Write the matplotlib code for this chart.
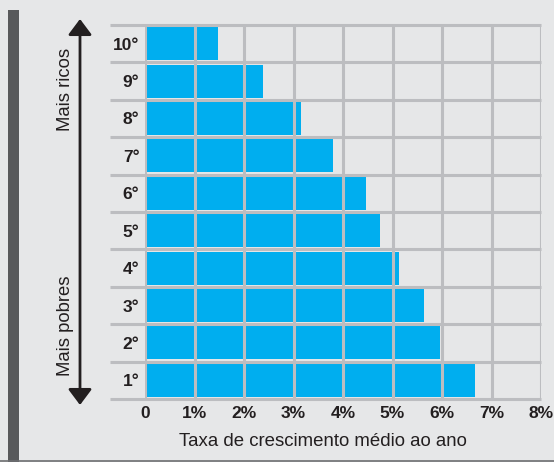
import matplotlib.pyplot as plt
from matplotlib.patches import Rectangle, FancyArrowPatch

plt.rcParams['font.family'] = ['Liberation Sans', 'DejaVu Sans']

deciles = ['1°', '2°', '3°', '4°', '5°', '6°', '7°', '8°', '9°', '10°']
growth = [6.67, 5.95, 5.64, 5.14, 4.74, 4.46, 3.79, 3.15, 2.38, 1.47]
xticks = [0, 1, 2, 3, 4, 5, 6, 7, 8]
xtick_labels = ['0', '1%', '2%', '3%', '4%', '5%', '6%', '7%', '8%']

bg = '#e6e7e8'
grid_c = '#bcbdc0'
bar_c = '#00aeef'
txt_c = '#231f20'

fig = plt.figure(figsize=(5.54, 4.62), dpi=100, facecolor=bg)
W, H = 554, 462
ax = fig.add_axes([145 / W, (H - 399) / H, (541 - 145) / W, (399 - 25) / H])
ax.set_facecolor(bg)

y = list(range(len(deciles)))
ax.barh(y, growth, height=0.88, color=bar_c, zorder=1)

ax.set_xlim(0, 8)
ax.set_ylim(-0.5, len(deciles) - 0.5)

# grid on top of bars
for xv in xticks:
    ax.axvline(xv, color=grid_c, lw=2.2, zorder=3)
for yv in [i - 0.5 for i in range(len(deciles) + 1)]:
    ax.plot([-0.71, 8], [yv, yv], color=grid_c, lw=2.2, zorder=3,
            clip_on=False, solid_capstyle='butt')

for s in ax.spines.values():
    s.set_visible(False)

ax.set_yticks(y)
ax.set_yticklabels(deciles, fontsize=12.5, fontweight='bold', color=txt_c)
ax.set_xticks(xticks)
ax.set_xticklabels(xtick_labels, fontsize=12.5, fontweight='bold', color=txt_c)
ax.tick_params(axis='both', length=0)
ax.tick_params(axis='y', pad=4)
ax.tick_params(axis='x', pad=5)

fig.text(323 / W, (H - 441) / H, 'Taxa de crescimento médio ao ano', ha='center', va='center',
         fontsize=13.4, color=txt_c)

# dark bar on the left
fig.patches.append(Rectangle((8 / W, 0), 11 / W, (H - 10) / H, transform=fig.transFigure,
                             facecolor='#58595b', edgecolor='none', zorder=0))
# bottom line
fig.lines.append(plt.Line2D([0, 1], [1 / H, 1 / H], transform=fig.transFigure,
                            color='#6d6e71', lw=1.2))

# double arrow
fig.patches.append(FancyArrowPatch(
    (80 / W, (H - 405) / H), (80 / W, (H - 19) / H), transform=fig.transFigure,
    arrowstyle='<|-|>,head_length=0.6,head_width=0.45', mutation_scale=16,
    color=txt_c, lw=2, shrinkA=0, shrinkB=0))

fig.text(66 / W, (H - 89) / H, 'Mais ricos', rotation=90, ha='center', va='center',
         fontsize=13.3, color=txt_c)
fig.text(66 / W, (H - 326) / H, 'Mais pobres', rotation=90, ha='center', va='center',
         fontsize=13.3, color=txt_c)

fig.savefig('out.png', dpi=100, facecolor=bg)
